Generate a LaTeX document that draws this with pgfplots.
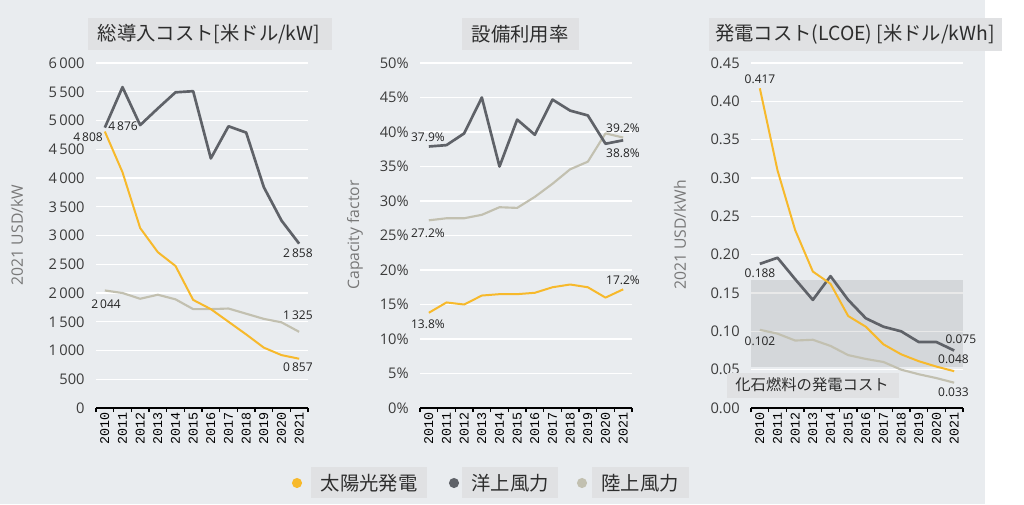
\documentclass[border=0pt]{standalone}
\usepackage{pgfplots}
\pgfplotsset{compat=1.18}
\usepackage{fontspec}
\setmainfont{Open Sans}
\newfontfamily\jp{Noto Sans CJK JP}
\newfontfamily\mono{Liberation Mono}
\definecolor{bg}{RGB}{233,236,239}
\definecolor{boxc}{RGB}{224,225,227}
\definecolor{solar}{RGB}{247,185,43}
\definecolor{offw}{RGB}{95,98,104}
\definecolor{onw}{RGB}{194,192,176}
\definecolor{tickc}{RGB}{60,60,60}
\definecolor{labc}{RGB}{120,120,120}
\definecolor{titc}{RGB}{45,45,45}
\definecolor{dlab}{RGB}{35,35,35}

\pgfplotsset{panel/.style={
  scale only axis, width=159pt, height=258.75pt, anchor=south west,
  xmin=-0.5, xmax=11.5, clip=false,
  axis x line*=bottom, axis y line*=left,
  y axis line style={draw=none},
  x axis line style={black, line width=1.2pt},
  xtick={0,1,2,3,4,5,6,7,8,9,10,11},
  xticklabels={2010,2011,2012,2013,2014,2015,2016,2017,2018,2019,2020,2021},
  minor xtick={-0.5,0.5,1.5,2.5,3.5,4.5,5.5,6.5,7.5,8.5,9.5,10.5,11.5},
  tick align=outside,
  major tick length=0pt,
  minor tick length=3pt,
  minor tick style={black, line width=1.2pt},
  ytick style={draw=none},
  xticklabel style={rotate=90, anchor=east, font=\mono\fontsize{10}{10}\selectfont, text=black},
  yticklabel style={font=\fontsize{11}{12}\selectfont, text=tickc, xshift=-5pt},
  ymajorgrids, major grid style={white, line width=0.9pt},
  /pgf/number format/assume math mode=true,
  every axis plot/.append style={line join=round, mark=none},
}}
\tikzset{dl/.style={font=\fontsize{9}{10}\selectfont, text=dlab, inner sep=0pt},
  yl/.style={rotate=90, font=\fontsize{11.8}{12}\selectfont, text=labc}}

\begin{document}
\begin{tikzpicture}[x=0.75pt,y=-0.75pt]
\fill[white] (0,0) rectangle (1024,504);
\fill[bg] (0,0) rectangle (985,504);

% ---------- Panel 1 ----------
\fill[boxc] (88,18) rectangle (332,50);
\node[font=\jp\fontsize{14.5}{15}\selectfont, text=titc] at (209,34) {総導入コスト[米ドル/kW]};
\node[yl] at (17,235) {2021 USD/kW};
\begin{axis}[panel, at={(72pt,-306pt)},
  ymin=0, ymax=6000, ytick={0,500,...,6000},
  /pgf/number format/1000 sep={\,}]
\addplot[onw, line width=1.6pt] coordinates {(0,2044)(1,2000)(2,1900)(3,1970)(4,1890)(5,1720)(6,1720)(7,1730)(8,1640)(9,1550)(10,1490)(11,1325)};
\addplot[offw, line width=2pt] coordinates {(0,4876)(1,5580)(2,4920)(3,5210)(4,5490)(5,5510)(6,4340)(7,4900)(8,4790)(9,3840)(10,3260)(11,2858)};
\addplot[solar, line width=1.5pt] coordinates {(0,4808)(1,4100)(2,3130)(3,2710)(4,2470)(5,1880)(6,1720)(7,1500)(8,1280)(9,1050)(10,920)(11,857)};
\node[dl] at (axis cs:-0.95,4713) {4\,808};
\node[dl] at (axis cs:1.03,4904) {4\,876};
\node[dl] at (axis cs:10.93,2696) {2\,858};
\node[dl] at (axis cs:0.07,1809) {2\,044};
\node[dl] at (axis cs:10.93,1617) {1\,325};
\node[dl] at (axis cs:10.93,713) {0\,857};
\end{axis}

% ---------- Panel 2 ----------
\fill[boxc] (462,18) rectangle (579,50);
\node[font=\jp\fontsize{14.5}{15}\selectfont, text=titc] at (520,34) {設備利用率};
\node[yl] at (355,235) {Capacity factor};
\begin{axis}[panel, at={(315pt,-306pt)},
  ymin=0, ymax=50, ytick={0,5,...,50},
  yticklabel={\pgfmathprintnumber{\tick}\%}]
\addplot[onw, line width=1.6pt] coordinates {(0,27.2)(1,27.5)(2,27.5)(3,28.0)(4,29.1)(5,29.0)(6,30.6)(7,32.5)(8,34.6)(9,35.7)(10,39.8)(11,39.2)};
\addplot[offw, line width=2pt] coordinates {(0,37.9)(1,38.1)(2,39.8)(3,45.0)(4,35.0)(5,41.8)(6,39.6)(7,44.7)(8,43.1)(9,42.4)(10,38.3)(11,38.8)};
\addplot[solar, line width=1.5pt] coordinates {(0,13.8)(1,15.3)(2,15.0)(3,16.3)(4,16.5)(5,16.5)(6,16.7)(7,17.5)(8,17.9)(9,17.5)(10,16.0)(11,17.2)};
\node[dl] at (axis cs:-0.05,39.3) {37.9\%};
\node[dl] at (axis cs:10.99,40.6) {39.2\%};
\node[dl] at (axis cs:10.99,36.96) {38.8\%};
\node[dl] at (axis cs:-0.05,25.36) {27.2\%};
\node[dl] at (axis cs:-0.05,12.13) {13.8\%};
\node[dl] at (axis cs:10.99,18.45) {17.2\%};
\end{axis}

% ---------- Panel 3 ----------
\fill[boxc] (709,18) rectangle (1002,51);
\node[font=\jp\fontsize{14.5}{15}\selectfont, text=titc] at (855,34) {発電コスト(LCOE) [米ドル/kWh]};
\node[yl] at (680,235) {2021 USD/kWh};
\begin{axis}[panel, at={(563.25pt,-306pt)},
  ymin=0, ymax=0.45, ytick={0,0.05,...,0.45},
  yticklabel style={/pgf/number format/fixed, /pgf/number format/fixed zerofill, /pgf/number format/precision=2}]
\fill[black, fill opacity=0.085] (axis cs:-0.5,0.0535) rectangle (axis cs:11.5,0.167);
\addplot[onw, line width=1.6pt] coordinates {(0,0.102)(1,0.097)(2,0.088)(3,0.089)(4,0.081)(5,0.069)(6,0.064)(7,0.060)(8,0.050)(9,0.044)(10,0.039)(11,0.033)};
\addplot[offw, line width=2pt] coordinates {(0,0.188)(1,0.196)(2,0.168)(3,0.141)(4,0.172)(5,0.141)(6,0.117)(7,0.106)(8,0.100)(9,0.086)(10,0.086)(11,0.075)};
\addplot[solar, line width=1.5pt] coordinates {(0,0.417)(1,0.310)(2,0.232)(3,0.178)(4,0.162)(5,0.120)(6,0.106)(7,0.083)(8,0.070)(9,0.061)(10,0.054)(11,0.048)};
\node[dl] at (axis cs:0.01,0.4287) {0.417};
\node[dl] at (axis cs:0.01,0.1757) {0.188};
\node[dl] at (axis cs:0.01,0.0865) {0.102};
\node[dl] at (axis cs:11.38,0.090) {0.075};
\node[dl] at (axis cs:10.96,0.0635) {0.048};
\node[dl] at (axis cs:10.96,0.020) {0.033};
\end{axis}
\fill[boxc] (727,373) rectangle (899,398);
\node[font=\jp\fontsize{11.5}{12}\selectfont, text=titc] at (812,385) {化石燃料の発電コスト};

% ---------- Legend ----------
\fill[solar] (297,483) circle (3.8pt);
\fill[boxc] (311,467) rectangle (427,498);
\node[font=\jp\fontsize{14.5}{15}\selectfont, text=titc] at (369,483) {太陽光発電};
\fill[offw] (454,483) circle (3.8pt);
\fill[boxc] (462,467) rectangle (558,498);
\node[font=\jp\fontsize{14.5}{15}\selectfont, text=titc] at (510,483) {洋上風力};
\fill[onw] (582,483) circle (3.8pt);
\fill[boxc] (592,467) rectangle (689,498);
\node[font=\jp\fontsize{14.5}{15}\selectfont, text=titc] at (640,483) {陸上風力};
\end{tikzpicture}
\end{document}
